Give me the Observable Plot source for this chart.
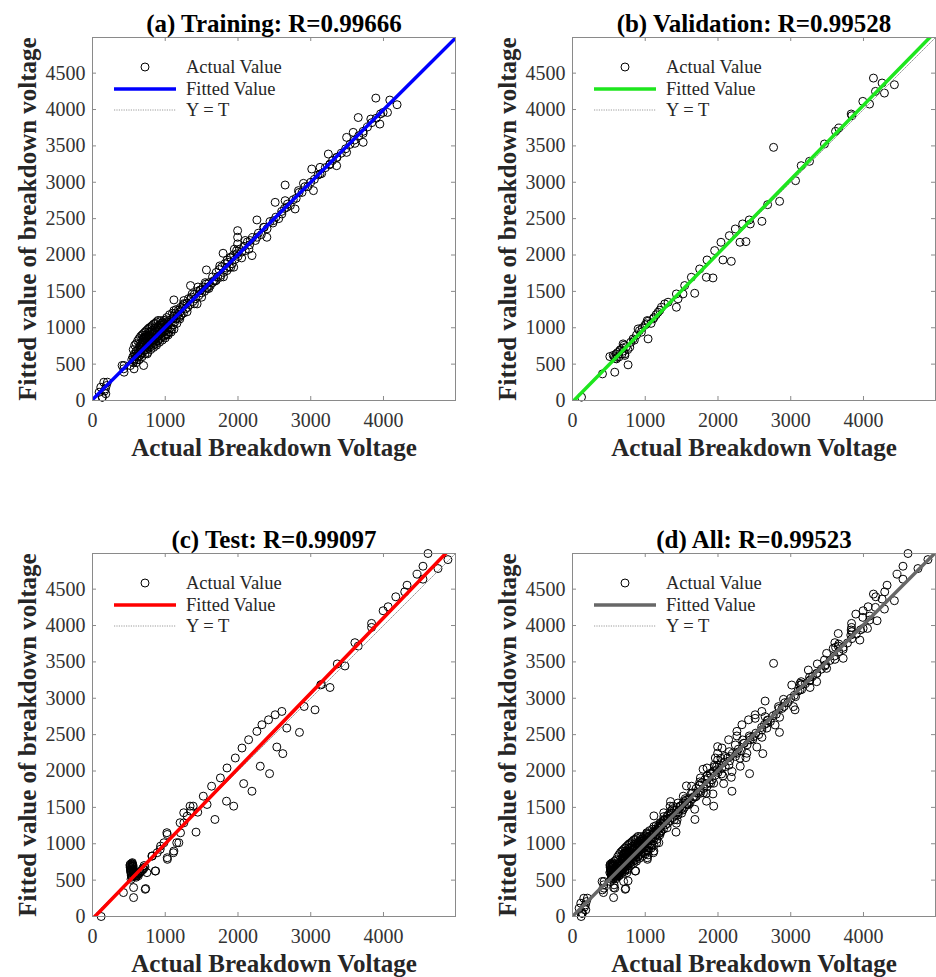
<!DOCTYPE html>
<html><head><meta charset="utf-8">
<script src="https://cdn.jsdelivr.net/npm/d3@7"></script>
<script src="https://cdn.jsdelivr.net/npm/@observablehq/plot@0.6"></script>
<style>
html,body{margin:0;padding:0;background:#fff;overflow:hidden}
#chart{position:relative;width:936px;height:977px;background:#fff}
.panel{position:absolute}
</style></head><body><div id="chart"></div>
<script>
// ---------- data ----------
const trainPoints = [
  [91,114],[114,183],[137,46],[155,251],[178,160],[183,92],[205,252],[133,45],[190,205],[165,130],
  [407,481],[429,435],[434,389],[434,481],[571,435],[703,481],[594,641],[571,549],
  [520,480],[540,560],[555,600],[560,520],[575,640],[580,570],[590,610],[600,680],[610,560],[615,640],
  [625,700],[630,600],[640,660],[645,740],[650,620],[660,700],[665,760],[670,640],[680,720],[685,800],
  [690,660],[700,750],[705,830],[710,690],[715,780],[720,860],[725,720],[730,800],[735,880],[740,760],
  [745,700],[750,840],[755,880],[760,780],[765,720],[770,860],[775,820],[780,760],[790,880],[795,800],
  [800,740],[810,860],[815,780],[820,900],[830,820],[835,760],[840,880],[850,800],[855,920],[860,840],
  [870,780],[875,900],[880,860],[890,940],[895,820],[900,880],[910,960],[915,840],[920,900],[930,1000],
  [935,860],[940,920],[950,980],[955,880],[960,1040],[970,940],[975,1000],[980,880],[990,1060],[1000,960],
  [1005,1020],[1010,900],[1020,1080],[1030,980],[1040,1040],[1050,940],[1060,1100],[1070,1000],[1080,1060],
  [1090,980],[1100,1120],[1110,1040],[1120,1160],[1130,1080],[1140,1200],[1150,1120],[1160,1060],[1170,1180],
  [1180,1240],[1190,1140],[1200,1220],[1210,1280],[1220,1180],[1230,1260],[1240,1300],[1250,1200],[1260,1320],
  [1280,1260],[1300,1340],[1310,1280],[1320,1400],[1340,1320],[1360,1420],[1380,1360],[1400,1460],[1420,1400],
  [1440,1500],[1460,1440],[1480,1520],[1500,1480],[1520,1560],[1540,1500],[1560,1600],[1580,1540],[1600,1620],
  [1620,1580],[1650,1700],[1680,1640],[1700,1760],[1720,1700],[1740,1800],[1760,1720],[1780,1840],[1800,1760],
  [1820,1880],[1840,1820],[1860,1900],[1880,1840],[1900,1960],[1920,1880],[1940,2000],[1960,1940],[1980,2060],
  [2000,1980],[2020,2080],[2050,2040],[2080,2120],[2100,2060],[2130,2180],[2160,2140],[2200,2240],[2240,2200],
  [2280,2300],[2320,2280],[2360,2380],[2400,2360],[2440,2460],[2480,2440],[2520,2520],[2560,2500],[2600,2600],
  [2640,2640],[2680,2700],[2720,2680],[2760,2760],[2800,2780],[2840,2860],[2880,2860],[2920,2940],[2960,2940],
  [3000,3000],[3050,3040],[3100,3100],[3150,3120],[3200,3200],[3260,3240],[3300,3300],[3360,3340],[3420,3400],
  [3480,3460],[3540,3520],[3600,3580],[3660,3640],[3720,3700],[3780,3760],[3840,3820],[3900,3880],[3960,3940],
  [1256,1374],[1119,1383],[1347,1580],[1370,1465],[1438,1328],[1119,1236],[1210,1168],[1027,1053],[936,1099],
  [1027,916],[845,916],[753,824],[662,733],[708,870],[753,641],[1484,1511],[1575,1557],[1667,1648],[1566,1795],
  [1758,1694],[1849,1786],[1941,1832],[1795,2024],[1895,1969],[1986,2015],[1995,2152],[1995,2244],[1995,2335],
  [2192,1992],[2169,2198],[2260,2244],[2352,2381],[2260,2482],[2397,2244],[2489,2473],[2511,2724],[2603,2564],
  [2671,2656],[2648,2747],[2648,2962],[2785,2633],[2831,2885],[2900,2985],[3037,2885],[3128,3113],[3014,3182],
  [3128,3205],[3265,3251],[3356,3228],[3242,3388],[3356,3342],[3493,3411],[3721,3549],[3607,3535],[3493,3617],
  [3584,3686],[3721,3672],[3826,3869],[3653,3890],[4055,3960],[3950,3800],[3995,3960],[4187,4066],[4087,4130],
  [3895,4157],
  [560,700],[580,760],[600,780],[620,820],[640,850],[660,880],[680,900],[700,920],[720,940],[740,960],
  [760,980],[780,1000],[800,1010],[820,1030],[840,1050],[860,1060],[880,1080],[900,1100],[600,520],[640,560],
  [680,600],[720,640],[760,660],[800,700],[840,730],[880,760],[920,800],[960,830],[1000,860],[1040,900],
  [1080,940],[1120,980],[700,860],[740,900],[780,940],[820,960],[860,1000],[900,1020],[940,1060],[980,1100],
  [1020,1140],[1060,1180],[1100,1200],[650,780],[690,840],[730,870],[770,900],[810,940],[850,970],[890,1000],
  [930,1040],[970,1070],[1010,1110],
  [1150,1250],[1200,1120],[1250,1330],[1300,1220],[1350,1400],[1400,1330],[1450,1560],[1500,1420],[1550,1620],
  [1600,1540],[1650,1620],[1700,1650],[1750,1850],[1800,1700],[1850,1930],[1900,1830],[1950,2080],[2050,1960],
  [2100,2200],[2150,2080]
];
const valPoints = [
  [124,46],[412,366],[581,389],[764,490],[513,604],[604,572],[650,687],[696,778],[719,641],[787,733],
  [833,847],[902,984],[947,939],[1016,1053],[1039,847],[1027,1099],[1108,1122],[1176,1213],[1222,1282],
  [1268,1328],[1314,1351],[1428,1282],[1428,1465],[1451,1397],[1519,1465],[1542,1580],[1634,1694],[1680,1474],
  [1748,1808],[1840,1694],[1931,1685],[1849,1932],[1954,2061],[2068,1932],[2183,1913],[2041,2175],[2156,2266],
  [2238,2358],[2302,2175],[2384,2184],[2339,2427],[2430,2482],[2444,2427],[2604,2463],[2682,2692],[2764,3480],
  [2847,2738],[3066,3022],[3144,3228],[3258,3288],[3464,3526],[3616,3700],[3661,3745],[3831,3938],[3840,3915],
  [3991,4112],[4083,4075],[4137,4432],[4165,4249],[4256,4364],[4288,4226],[4425,4341],
  [560,620],[575,600],[590,580],[600,640],[620,660],[640,600],[660,700],[680,640],[690,720],[700,680],
  [710,760],[720,620],[740,740],[760,700],[800,800],[850,830],[880,900],[920,960],[960,1000],[1000,1040],
  [1040,1090],[1080,1060],[1120,1140],[1150,1180],[1200,1240]
];
const testPoints = [
  [119,0],[425,329],[565,260],[565,398],[725,374],[731,384],
  [520,718],[520,690],[522,660],[525,630],[528,600],[532,570],[540,540],[548,740],[548,720],[548,700],
  [550,680],[552,660],[555,640],[558,620],[562,600],[568,585],[575,570],[585,560],[595,555],[610,565],
  [625,580],[640,595],[660,610],[680,630],[700,650],[720,680],[540,730],[545,690],[560,650],[530,511],
  [515,705],[518,675],[523,645],[527,615],[535,585],[543,555],[553,710],[560,690],[570,610],[590,590],
  [615,600],[650,620],[690,660],[710,700],[600,540],[630,560],
  [748,603],[862,625],[816,831],[868,626],[822,831],[890,877],[930,923],[936,968],[982,1014],[1022,1152],
  [1027,1128],[1030,786],[1027,808],[1112,877],[1119,900],[1158,1015],[1187,1014],[1210,1151],[1204,1289],
  [1256,1288],[1254,1426],[1301,1380],[1341,1517],[1347,1448],[1384,1517],[1423,1160],[1447,1434],
  [1523,1654],[1575,1540],[1683,1334],[1637,1791],[1758,1905],[1849,2042],[1842,1585],[1941,1517],
  [1963,2179],[2055,2316],[2078,1827],[2146,2430],[2192,1722],[2260,2545],[2306,2065],[2329,2636],
  [2420,2704],[2434,1964],[2511,2773],[2534,2330],[2603,2819],[2616,2239],[2671,2590],[2845,2531],
  [2909,2887],[3059,2841],[3137,3184],[3150,3190],[3265,3148],[3365,3472],[3470,3444],[3607,3764],
  [3653,3718],[3836,4029],[3836,3974],[3995,4203],[4064,4258],[4169,4395],[4292,4463],[4324,4554],
  [4461,4705],[4543,4815],[4543,4637],[4612,4990],[4749,4783],[4886,4906]
];
const allPoints = trainPoints.concat(valPoints, testPoints);

const panelTitles = ["(a) Training: R=0.99666", "(b) Validation: R=0.99528", "(c) Test: R=0.99097", "(d) All: R=0.99523"];
const fitColors = ["#0000ff", "#1ee61e", "#ff0000", "#676767"];
const fitSlopes = [0.996, 1.02, 1.035, 1.002];
const fitIntercepts = [12, -20, -35, 2];
const xTicks = [0, 1000, 2000, 3000, 4000];
const yTicks = [0, 500, 1000, 1500, 2000, 2500, 3000, 3500, 4000, 4500];
const axisRange = [0, 4990];
const xLabel = "Actual Breakdown Voltage";
const yLabel = "Fitted value of breakdown voltage";
const legendLabels = ["Actual Value", "Fitted Value", "Y = T"];

// ---------- layout ----------
const FONT = "'Liberation Serif','Times New Roman',Times,serif";
const FW = 363, FH = 363, ML = 92, MT = 37;
const AXIS_GRAY = "#8a8a8a";
const panels = [
  {pts: trainPoints, left: 0, top: 0, mb: 70},
  {pts: valPoints, left: 480, top: 0, mb: 70},
  {pts: testPoints, left: 0, top: 516, mb: 61},
  {pts: allPoints, left: 480, top: 516, mb: 61}
];

const chart = document.getElementById("chart");
panels.forEach((p, k) => {
  const fitLine = axisRange.map(x => ({x, y: fitSlopes[k] * x + fitIntercepts[k]}));
  const idLine = axisRange.map(v => ({x: v, y: v}));
  const svg = Plot.plot({
    width: ML + FW + 1, height: MT + FH + p.mb,
    marginLeft: ML, marginTop: MT, marginRight: 1, marginBottom: p.mb,
    style: {fontFamily: FONT, background: "transparent", overflow: "visible"},
    x: {domain: axisRange},
    y: {domain: axisRange},
    marks: [
      Plot.dot(p.pts, {x: d => d[0], y: d => d[1], r: 4, stroke: "#000", strokeWidth: 1, fill: "none"}),
      Plot.line(idLine, {x: "x", y: "y", stroke: "#909090", strokeWidth: 0.9, strokeDasharray: "1.2,1.2", clip: true}),
      Plot.line(fitLine, {x: "x", y: "y", stroke: fitColors[k], strokeWidth: 3.5, clip: true}),
      Plot.frame({stroke: AXIS_GRAY, strokeWidth: 1}),
      Plot.tickX(xTicks, {x: d => d, insetTop: FH - 4, stroke: AXIS_GRAY}),
      Plot.tickX(xTicks, {x: d => d, insetBottom: FH - 4, stroke: AXIS_GRAY}),
      Plot.tickY(yTicks, {y: d => d, insetRight: FW - 4, stroke: AXIS_GRAY}),
      Plot.tickY(yTicks, {y: d => d, insetLeft: FW - 4, stroke: AXIS_GRAY}),
      Plot.axisX(xTicks, {anchor: "bottom", tickSize: 0, tickPadding: 12, tickFormat: "d", fontSize: 20, color: "#333", label: null}),
      Plot.axisY(yTicks, {anchor: "left", tickSize: 0, tickPadding: 7, tickFormat: "d", fontSize: 20, color: "#333", label: null}),
      Plot.text([panelTitles[k]], {text: d => d, frameAnchor: "top", textAnchor: "middle", dy: -6, lineAnchor: "bottom", fontSize: 25, fontWeight: "bold", fill: "#000"}),
      Plot.text([xLabel], {text: d => d, frameAnchor: "bottom", textAnchor: "middle", dy: 55, lineAnchor: "bottom", fontSize: 25, fontWeight: "bold", fill: "#262626"}),
      Plot.text([yLabel], {text: d => d, frameAnchor: "left", textAnchor: "middle", dx: -57, rotate: -90, lineAnchor: "bottom", fontSize: 25, fontWeight: "bold", fill: "#262626"})
    ]
  });
  // in-plot legend
  const g = d3.select(svg).append("g")
    .attr("transform", `translate(${ML},${MT})`)
    .attr("font-family", FONT).attr("font-size", 18.5).attr("fill", "#262626")
    .attr("text-anchor", "start");
  g.append("circle").attr("cx", 53).attr("cy", 30).attr("r", 4).attr("fill", "none").attr("stroke", "#000").attr("stroke-width", 1);
  g.append("text").attr("x", 94).attr("y", 36).text(legendLabels[0]);
  g.append("line").attr("x1", 22).attr("x2", 84).attr("y1", 52).attr("y2", 52).attr("stroke", fitColors[k]).attr("stroke-width", 3.5);
  g.append("text").attr("x", 94).attr("y", 58).text(legendLabels[1]);
  g.append("line").attr("x1", 22).attr("x2", 84).attr("y1", 73).attr("y2", 73).attr("stroke", "#909090").attr("stroke-width", 0.9).attr("stroke-dasharray", "1.2,1.2");
  g.append("text").attr("x", 94).attr("y", 79).text(legendLabels[2]);

  const wrap = document.createElement("div");
  wrap.className = "panel";
  wrap.style.left = p.left + "px";
  wrap.style.top = p.top + "px";
  wrap.appendChild(svg);
  chart.appendChild(wrap);
});
</script>
</body></html>
